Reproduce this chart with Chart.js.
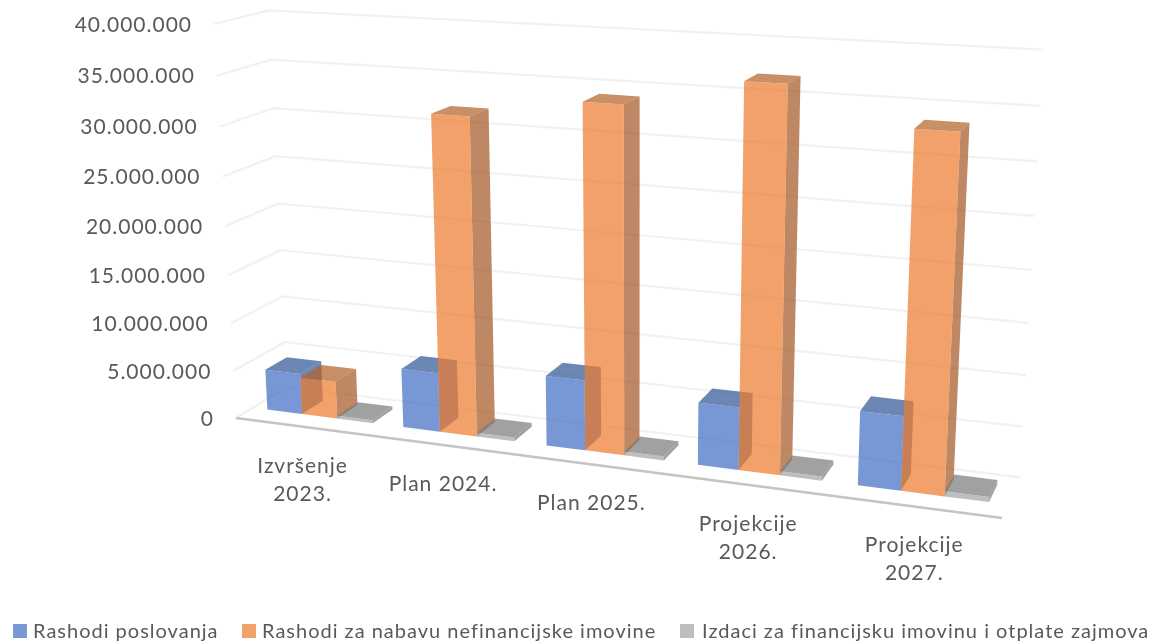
<!DOCTYPE html>
<html>
<head>
<meta charset="utf-8">
<title>Rashodi</title>
<script src="https://cdn.jsdelivr.net/npm/chart.js@4/dist/chart.umd.min.js"></script>
<style>
  html, body { margin: 0; padding: 0; background: #fff; }
  canvas { display: block; }
</style>
</head>
<body>
<canvas id="chart" width="1154" height="643"></canvas>
<script>
const categories = [["Izvršenje", "2023."], "Plan 2024.", "Plan 2025.", ["Projekcije", "2026."], ["Projekcije", "2027."]];
const yTickLabels = ["0", "5.000.000", "10.000.000", "15.000.000", "20.000.000", "25.000.000", "30.000.000", "35.000.000", "40.000.000"];
const rashodiPoslovanja = [4300000, 6100000, 7100000, 6200000, 7200000];
const rashodiNabava = [3900000, 32000000, 34100000, 36900000, 33600000];
const izdaciFinancijska = [300000, 400000, 400000, 400000, 500000];

// box corners of the 3d plot on screen, weights give the perspective
const ORIGIN = [236, 418];
const U_END = [1002, 518];
const V_END = [214, 24];
const D_END = [287, 387];
const W_U = 0.87, W_V = 0.948, W_D = 1.048;
const BAR_D0 = 0.32, BAR_D1 = 0.745;

function project(u, v, d) {
  const w = 1 + u * (W_U - 1) + v * (W_V - 1) + d * (W_D - 1);
  const at = (i) => (ORIGIN[i] + u * (W_U * U_END[i] - ORIGIN[i]) + v * (W_V * V_END[i] - ORIGIN[i]) + d * (W_D * D_END[i] - ORIGIN[i])) / w;
  return [at(0), at(1)];
}

function poly(ctx, pts, fill) {
  ctx.beginPath();
  pts.forEach((p, i) => (i ? ctx.lineTo(p[0], p[1]) : ctx.moveTo(p[0], p[1])));
  ctx.closePath();
  ctx.fillStyle = fill;
  ctx.fill();
}

function line(ctx, pts, color, width) {
  ctx.beginPath();
  pts.forEach((p, i) => (i ? ctx.lineTo(p[0], p[1]) : ctx.moveTo(p[0], p[1])));
  ctx.strokeStyle = color;
  ctx.lineWidth = width;
  ctx.lineJoin = "round";
  ctx.stroke();
}

const TEXT_COLOR = "#595959";
const TEXT_FONT = "21px Lato";
const LEGEND_FONT = "20px Lato";
const TEXT_SPACING = "1px";

const plot3d = {
  id: "plot3d",
  beforeDatasetsDraw(chart) {
    const { ctx, chartArea: area, scales } = chart;
    const toU = (px) => (px - area.left) / (area.right - area.left);
    const toV = (px) => (area.bottom - px) / (area.bottom - area.top);

    ctx.save();
    // walls
    scales.y.ticks.forEach((tick) => {
      const v = toV(scales.y.getPixelForValue(tick.value));
      line(ctx, [project(0, v, 0), project(0, v, 1), project(1, v, 1)], "#f1f1f1", 2.2);
    });
    line(ctx, [project(0, 0, 0), project(1, 0, 0)], "#c4c4c4", 2.5);

    // bars, left to right so each one sits over its neighbour's side
    chart.data.labels.forEach((label, i) => {
      chart.data.datasets.forEach((ds, k) => {
        const el = chart.getDatasetMeta(k).data[i];
        const u0 = toU(el.x - el.width / 2), u1 = toU(el.x + el.width / 2);
        const v1 = toV(el.y), v0 = toV(el.base);
        const p = (u, v, d) => project(u, v, d);
        poly(ctx, [p(u0, v1, BAR_D0), p(u0, v1, BAR_D1), p(u1, v1, BAR_D1), p(u1, v1, BAR_D0)], ds.topColor);
        poly(ctx, [p(u1, v0, BAR_D0), p(u1, v0, BAR_D1), p(u1, v1, BAR_D1), p(u1, v1, BAR_D0)], ds.sideColor);
        poly(ctx, [p(u0, v0, BAR_D0), p(u1, v0, BAR_D0), p(u1, v1, BAR_D0), p(u0, v1, BAR_D0)], ds.backgroundColor);
      });
    });

    ctx.fillStyle = TEXT_COLOR;
    ctx.font = TEXT_FONT;
    ctx.letterSpacing = TEXT_SPACING;

    // value labels follow the slanted left edge
    ctx.textAlign = "right";
    ctx.textBaseline = "middle";
    scales.y.ticks.forEach((tick) => {
      const p = project(0, toV(scales.y.getPixelForValue(tick.value)), 0);
      ctx.fillText(tick.label, p[0] - 22, p[1] + 1);
    });

    // category labels
    ctx.textAlign = "center";
    chart.data.labels.forEach((label, i) => {
      const u = toU(scales.x.getPixelForValue(i));
      const p = project(u, 0, 0);
      [].concat(label).forEach((text, n) => {
        ctx.fillText(text, p[0] - 1, p[1] + 39 + n * 28);
      });
    });

    // legend
    const legendX = [[13, 33], [242, 262], [680, 702]];
    ctx.textAlign = "left";
    ctx.font = LEGEND_FONT;
    chart.data.datasets.forEach((ds, k) => {
      ctx.fillStyle = ds.backgroundColor;
      ctx.fillRect(legendX[k][0], 624, 14, 14);
      ctx.fillStyle = TEXT_COLOR;
      ctx.fillText(ds.label, legendX[k][1], 632);
    });
    ctx.restore();
    return false; // the flat bars are only used for their geometry
  },
};

new Chart(document.getElementById("chart"), {
  type: "bar",
  data: {
    labels: categories,
    datasets: [
      { label: "Rashodi poslovanja", data: rashodiPoslovanja, backgroundColor: "rgba(68,114,196,0.73)", topColor: "rgba(60,95,155,0.75)", sideColor: "rgba(60,95,155,0.75)" },
      { label: "Rashodi za nabavu nefinancijske imovine", data: rashodiNabava, backgroundColor: "rgba(237,125,49,0.72)", topColor: "rgba(180,100,45,0.72)", sideColor: "rgba(165,90,40,0.72)" },
      { label: "Izdaci za financijsku imovinu i otplate zajmova", data: izdaciFinancijska, backgroundColor: "rgba(165,165,165,0.72)", topColor: "rgba(125,125,125,0.72)", sideColor: "rgba(125,125,125,0.72)" },
    ],
  },
  options: {
    responsive: false,
    animation: false,
    devicePixelRatio: 1,
    layout: { padding: 0 },
    datasets: { bar: { categoryPercentage: 0.78, barPercentage: 1 } },
    plugins: { legend: { display: false }, tooltip: { enabled: false } },
    scales: {
      x: { display: false },
      y: { display: false, min: 0, max: 40000000, ticks: { stepSize: 5000000, callback: (v, i) => yTickLabels[i] } },
    },
  },
  plugins: [plot3d],
});
</script>
</body>
</html>
